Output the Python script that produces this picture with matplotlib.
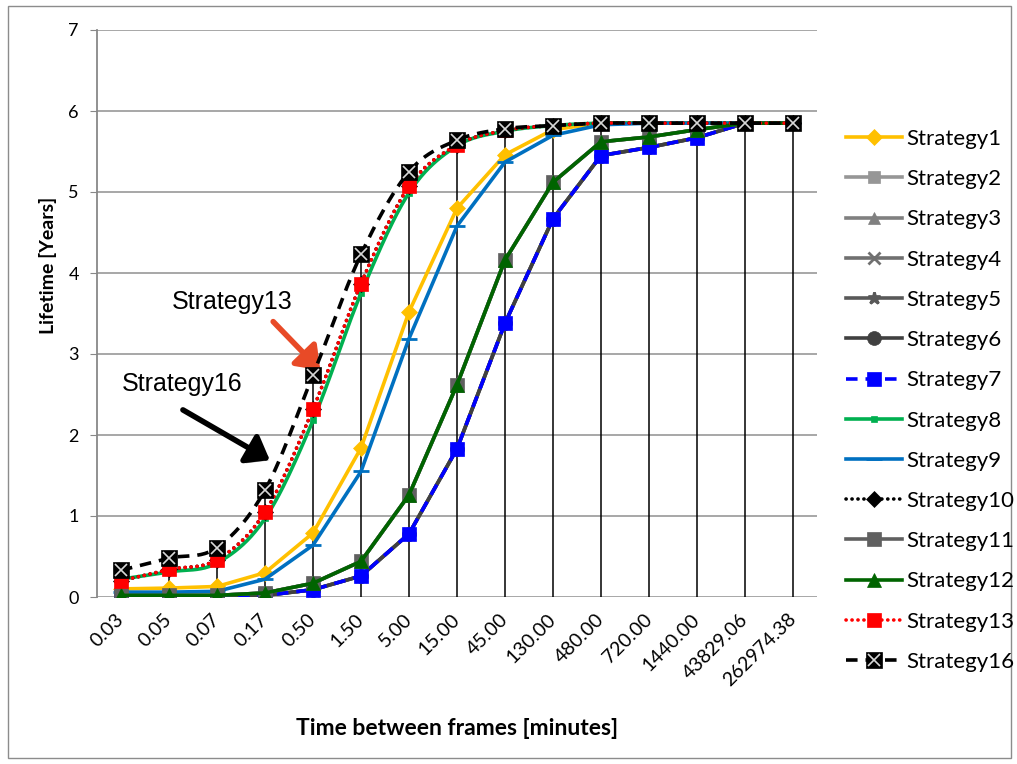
import numpy as np
import matplotlib
matplotlib.use("Agg")
import matplotlib.pyplot as plt
from matplotlib.lines import Line2D
from matplotlib.patches import Rectangle
import matplotlib.patheffects as pe

plt.rcParams["font.family"] = ["Lato", "DejaVu Sans"]

# frame interval categories (minutes)
intervals = ["0.03", "0.05", "0.07", "0.17", "0.50", "1.50", "5.00", "15.00",
             "45.00", "130.00", "480.00", "720.00", "1440.00", "43829.06", "262974.38"]

# lifetime in years per strategy
s1 = [0.10, 0.11, 0.13, 0.30, 0.79, 1.84, 3.52, 4.80, 5.46, 5.77, 5.85, 5.85, 5.85, 5.85, 5.85]
s9 = [0.06, 0.06, 0.07, 0.22, 0.64, 1.55, 3.19, 4.58, 5.37, 5.70, 5.83, 5.85, 5.85, 5.85, 5.85]
s12 = [0.02, 0.02, 0.02, 0.05, 0.17, 0.44, 1.26, 2.62, 4.16, 5.12, 5.62, 5.68, 5.77, 5.85, 5.85]
s7 = [0.00, 0.00, 0.00, 0.02, 0.09, 0.26, 0.78, 1.83, 3.38, 4.67, 5.45, 5.55, 5.67, 5.85, 5.85]
s8 = [0.22, 0.31, 0.42, 0.97, 2.18, 3.75, 4.99, 5.57, 5.75, 5.82, 5.85, 5.85, 5.85, 5.85, 5.85]
s13 = [0.20, 0.34, 0.46, 1.05, 2.32, 3.87, 5.07, 5.58, 5.76, 5.82, 5.85, 5.85, 5.85, 5.85, 5.85]
s16 = [0.33, 0.48, 0.61, 1.32, 2.74, 4.23, 5.25, 5.64, 5.78, 5.82, 5.85, 5.85, 5.85, 5.85, 5.85]
# these overlap the curves above exactly
s2 = s3 = s11 = s12
s4 = s5 = s6 = s7
s10 = s13

DOT = (0, (0.05, 1.6))
DASH = (0, (3.2, 2.2))

# label, values, color, linestyle, marker, markersize, smoothed
series = [
    ("Strategy1", s1, "#FFC000", "-", "D", 8, False),
    ("Strategy2", s2, "#969696", "-", "s", 9, False),
    ("Strategy3", s3, "#808080", "-", "^", 9, False),
    ("Strategy4", s4, "#707070", "-", "x", 9, False),
    ("Strategy5", s5, "#595959", "-", "*", 9, False),
    ("Strategy6", s6, "#404040", "-", "o", 10, False),
    ("Strategy7", s7, "#0000FF", DASH, "s", 10, False),
    ("Strategy8", s8, "#00B050", "-", "s", 5, True),
    ("Strategy9", s9, "#0070C0", "-", "_", 11, False),
    ("Strategy10", s10, "black", DOT, "D", 8, True),
    ("Strategy11", s11, "#606060", "-", "s", 10, False),
    ("Strategy12", s12, "#006400", "-", "^", 10, False),
    ("Strategy13", s13, "#FF0000", DOT, "s", 10, True),
    ("Strategy16", s16, "black", DASH, "s", 11, True),
]


def catmull(vals, steps=24):
    v = np.asarray(vals, float)
    p = np.concatenate([[2 * v[0] - v[1]], v, [2 * v[-1] - v[-2]]])
    t = np.linspace(0, 1, steps, endpoint=False)
    xs, ys = [], []
    for i in range(len(v) - 1):
        p0, p1, p2, p3 = p[i:i + 4]
        y = 0.5 * (2 * p1 + (p2 - p0) * t + (2 * p0 - 5 * p1 + 4 * p2 - p3) * t ** 2
                   + (3 * p1 - p0 - 3 * p2 + p3) * t ** 3)
        xs.append(i + t)
        ys.append(y)
    xs.append([len(v) - 1])
    ys.append([v[-1]])
    return np.concatenate(xs), np.concatenate(ys)


fig = plt.figure(figsize=(10.17, 7.64), dpi=100)
ax = fig.add_axes([97 / 1017, 1 - 597 / 764, 720 / 1017, 567 / 764])
x = np.arange(len(intervals))

# drop lines from zero up to the highest strategy
top = np.max([s[1] for s in series], axis=0)
ax.vlines(x, 0, top, color="black", lw=1.1, zorder=3)

handles = []
for i, (label, vals, color, ls, mk, ms, smooth) in enumerate(series):
    z = 4 + i * 0.1
    lw = 2.6
    if smooth:
        sx, sy = catmull(vals)
        ax.plot(sx, sy, color=color, ls=ls, lw=lw, zorder=z, solid_capstyle="butt",
                dash_capstyle="round" if ls == DOT else "butt")
    else:
        ax.plot(x, vals, color=color, ls=ls, lw=lw, zorder=z)
    mew = 2 if mk in ("x", "*", "_") else 0.5
    ax.plot(x, vals, ls="none", marker=mk, ms=ms, color=color, mec=color, mew=mew, zorder=z + 0.05)
    h = Line2D([], [], color=color, ls=ls, lw=lw, marker=mk, ms=ms, mec=color, mew=mew,
               dash_capstyle="round" if ls == DOT else "butt")
    if label == "Strategy16":
        ax.plot(x, vals, ls="none", marker="x", ms=8, color="#d8d8d8", mew=1.2, zorder=z + 0.06)
        h = (h, Line2D([], [], ls="none", marker="x", ms=8, color="#d8d8d8", mew=1.2))
    handles.append(h)

ax.set_xlim(-0.5, len(intervals) - 0.5)
ax.set_ylim(0, 7)
ax.set_yticks(range(8))
ax.set_xticks(x)
ax.set_xticklabels(intervals, rotation=45, ha="right", va="center", rotation_mode="anchor",
                   fontsize=14)
ax.tick_params(axis="x", length=0, pad=14)
ax.tick_params(axis="y", length=5, color="#888888", labelsize=13, pad=8)
ax.grid(axis="y", color="#A0A0A0", lw=1.3)
ax.set_axisbelow(True)
for side in ("top", "right", "bottom"):
    ax.spines[side].set_visible(False)
ax.spines["left"].set_color("#888888")
ax.spines["left"].set_linewidth(1.3)

ax.set_ylabel("Lifetime [Years]", fontsize=14, fontweight="bold")
ax.yaxis.set_label_coords(-0.056, 0.585)
ax.set_xlabel("Time between frames [minutes]", fontsize=16.5, fontweight="bold")
ax.xaxis.set_label_coords(0.5, -0.213)

shadow = [pe.SimplePatchShadow(offset=(2, -2), alpha=0.35), pe.Normal()]
ax.text(2.31, 3.64, "Strategy13", family="Liberation Sans", fontsize=18, ha="center", va="center")
ax.annotate("", xy=(4.15, 2.80), xytext=(3.17, 3.40),
            arrowprops=dict(arrowstyle="-|>,head_length=0.6,head_width=0.45", color="#E84A27",
                            lw=4, mutation_scale=22, shrinkA=0, shrinkB=0, path_effects=shadow))
ax.text(1.27, 2.63, "Strategy16", family="Liberation Sans", fontsize=18, ha="center", va="center")
ax.annotate("", xy=(3.10, 1.69), xytext=(1.29, 2.31),
            arrowprops=dict(arrowstyle="-|>,head_length=0.6,head_width=0.45", color="black",
                            lw=4, mutation_scale=22, shrinkA=0, shrinkB=0, path_effects=shadow))

fig.legend(handles, [s[0] for s in series], loc="upper left",
           bbox_to_anchor=(846 / 1017, 1 - 129 / 764), frameon=False, fontsize=16,
           handlelength=2.5, handletextpad=0.23, labelspacing=0.91, borderpad=0, borderaxespad=0)

fig.patches.append(Rectangle((8 / 1017, 6 / 764), 1003 / 1017, 752 / 764, transform=fig.transFigure,
                             fill=False, edgecolor="#8C8C8C", lw=1))

fig.savefig("out.png", dpi=100)
